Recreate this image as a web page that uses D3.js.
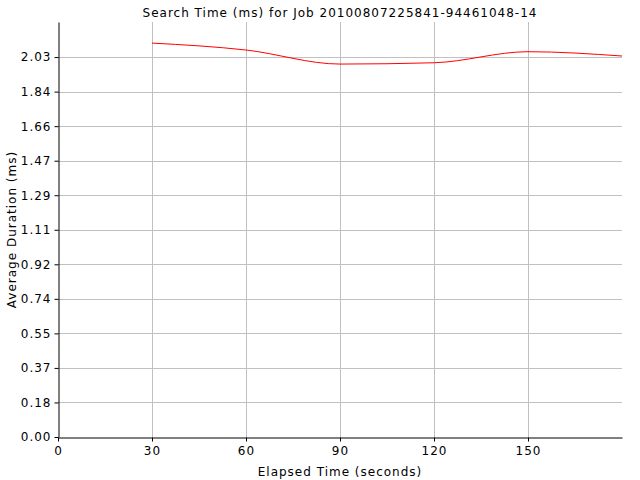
<!DOCTYPE html>
<html>
<head>
<meta charset="utf-8">
<script src="https://cdn.jsdelivr.net/npm/d3@7"></script>
<style>
  body { margin: 0; background: #fff; }
  text { font-family: "DejaVu Sans", sans-serif; font-size: 12px; fill: #000; letter-spacing: 1px; }
</style>
</head>
<body>
<script>
// Chart data
const elapsed = [30, 60, 90, 120, 150, 180];
const avgDuration = [2.102, 2.065, 1.990, 1.997, 2.056, 2.033];
const yTickValues = [0, 0.1843, 0.3686, 0.5529, 0.7372, 0.9215, 1.1058, 1.2901, 1.4744, 1.6587, 1.843, 2.0273];
const xTickValues = [0, 30, 60, 90, 120, 150];

const width = 640, height = 480;
const margin = { top: 22, right: 18, bottom: 43, left: 58 };

const svg = d3.select("body").append("svg")
    .attr("width", width)
    .attr("height", height);

const x = d3.scaleLinear().domain([0, 180]).range([margin.left, width - margin.right]);
const y = d3.scaleLinear().domain([0, 2.2145]).range([height - margin.bottom, margin.top]);

// Grid lines
svg.append("g")
    .selectAll("line.hgrid")
    .data(yTickValues.slice(1))
    .enter().append("line")
    .attr("x1", margin.left).attr("x2", width - margin.right)
    .attr("y1", d => Math.round(y(d)) + 0.5).attr("y2", d => Math.round(y(d)) + 0.5)
    .attr("stroke", "#c0c0c0");

svg.append("g")
    .selectAll("line.vgrid")
    .data(xTickValues.slice(1))
    .enter().append("line")
    .attr("x1", d => Math.round(x(d)) + 0.5).attr("x2", d => Math.round(x(d)) + 0.5)
    .attr("y1", margin.top).attr("y2", height - margin.bottom)
    .attr("stroke", "#c0c0c0");

// Axes
const xAxis = svg.append("g")
    .attr("transform", `translate(0,${Math.round(y(0)) + 0.5})`)
    .call(d3.axisBottom(x).tickValues(xTickValues).tickSize(4).tickSizeOuter(0).tickFormat(d3.format("d")));
const yAxis = svg.append("g")
    .attr("transform", `translate(${Math.round(x(0)) + 0.5},0)`)
    .call(d3.axisLeft(y).tickValues(yTickValues).tickSize(4).tickSizeOuter(0).tickFormat(d3.format(".2f")));

[xAxis, yAxis].forEach(g => {
    g.select(".domain").attr("stroke", "#000");
    g.selectAll(".tick line").attr("stroke", "#000");
    g.selectAll("text").attr("font-family", "DejaVu Sans").attr("font-size", 12).attr("fill", "#000");
});
xAxis.selectAll("text").attr("dy", "0.9em");
yAxis.selectAll("text").attr("dx", "0px");

// Line
const line = d3.line()
    .x((d, i) => x(elapsed[i]))
    .y(d => y(d))
    .curve(d3.curveMonotoneX);

svg.append("path")
    .datum(avgDuration)
    .attr("d", line)
    .attr("fill", "none")
    .attr("stroke", "#ff0000")
    .attr("stroke-width", 1);

// Labels
svg.append("text")
    .attr("x", (margin.left + width - margin.right) / 2)
    .attr("y", 17)
    .attr("text-anchor", "middle")
    .text("Search Time (ms) for Job 20100807225841-94461048-14");

svg.append("text")
    .attr("x", (margin.left + width - margin.right) / 2)
    .attr("y", 476)
    .attr("text-anchor", "middle")
    .text("Elapsed Time (seconds)");

svg.append("text")
    .attr("transform", `translate(16,${(margin.top + height - margin.bottom) / 2}) rotate(-90)`)
    .attr("text-anchor", "middle")
    .text("Average Duration (ms)");
</script>
</body>
</html>
